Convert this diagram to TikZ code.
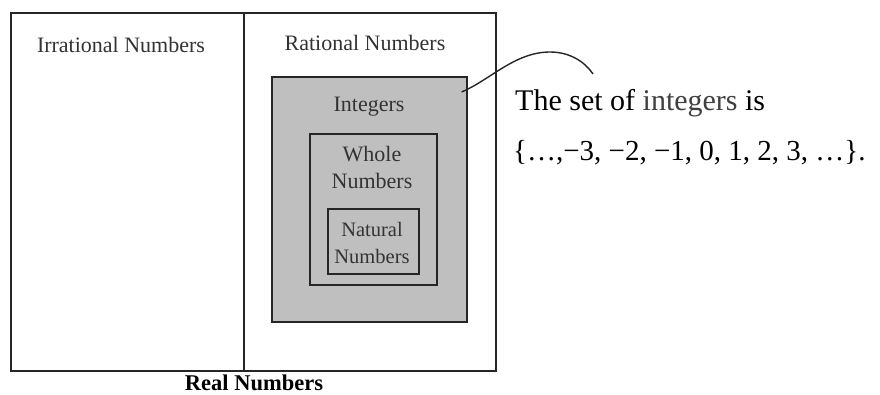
\documentclass[tikz,border=0pt]{standalone}
\usepackage{fontspec}
\setmainfont{Liberation Serif}
\begin{document}
\begin{tikzpicture}[x=1pt,y=-1pt,
  lbl/.style={inner sep=0pt,font=\fontsize{22}{27}\selectfont,text=black!80},
  boxe/.style={draw=black!85,line width=1.6pt,inner sep=0pt,anchor=north west},
  setline/.style={inner sep=0pt,anchor=west}]
\useasboundingbox (0,0) rectangle (880,395);
\fill[white] (0,0) rectangle (880,395);
% outer box
\node[boxe,minimum width=485pt,minimum height=358pt] (real) at (10,12) {};
\draw[black!85,line width=1.6pt] (244,12) -- (244,370) coordinate (divb);
\node[lbl] (irr) at (121,45) {Irrational Numbers};
\node[lbl] (rat) at (365,43) {Rational Numbers};
% integers
\node[boxe,fill=black!25,minimum width=195pt,minimum height=245pt] (ints) at (271,76) {};
\node[lbl] (intl) at (369,107) {Integers};
\node[boxe,minimum width=127pt,minimum height=151pt] (whole) at (309,133) {};
\node[lbl,align=center] (wholel) at (372,167) {Whole\\Numbers};
\node[boxe,minimum width=91pt,minimum height=65pt] (nat) at (327,208) {};
\node[lbl,align=center,font=\fontsize{20.5}{27}\selectfont] (natl) at (372,243) {Natural\\Numbers};
\node[inner sep=0pt,font=\fontsize{22.5}{26}\selectfont\bfseries] (reall) at (254,383) {Real Numbers};
% note
\node[setline,font=\fontsize{30}{34}\selectfont] (set1) at (515,103) {The set of {\color{black!75}integers} is};
\node[setline,font=\fontsize{29}{34}\selectfont] (set2) at (513,153) {\{…,−3, −2, −1, 0, 1, 2, 3, …\}.};
\coordinate (cs) at ([xshift=-6pt,yshift=-16pt]ints.north east);
\coordinate (ce) at (593,74);
\draw[black!85,line width=1.4pt] (cs) .. controls (490,80) and (515,52) .. (550,52) .. controls (570,52) and (585,62) .. (ce);
\end{tikzpicture}
\end{document}
